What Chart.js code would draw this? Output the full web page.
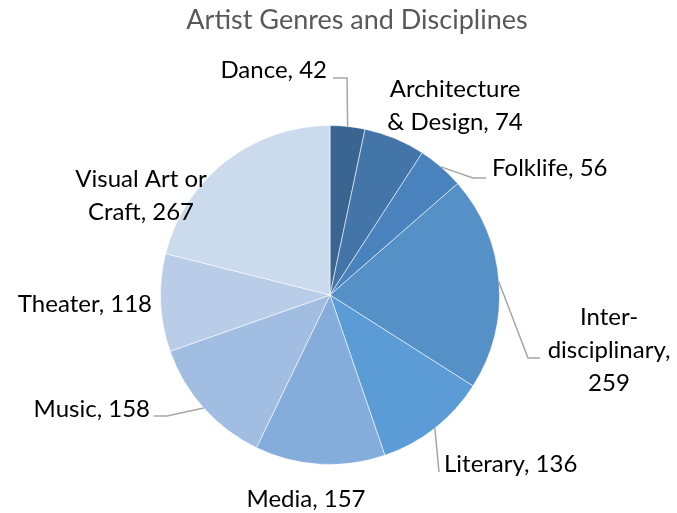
<!DOCTYPE html>
<html>
<head>
<meta charset="utf-8">
<script src="https://cdn.jsdelivr.net/npm/chart.js@4"></script>
<style>
  html, body { margin: 0; padding: 0; background: #ffffff; }
  #wrap { width: 677px; height: 513px; }
</style>
</head>
<body>
<div id="wrap"><canvas id="c" width="677" height="513"></canvas></div>
<script>
// ---- data ----
const categories = ["Dance", "Architecture & Design", "Folklife", "Interdisciplinary", "Literary", "Media", "Music", "Theater", "Visual Art or Craft"];
const labelLines = [["Dance, 42"], ["Architecture", "& Design, 74"], ["Folklife, 56"], ["Inter-", "disciplinary,", "259"], ["Literary, 136"], ["Media, 157"], ["Music, 158"], ["Theater, 118"], ["Visual Art or", "Craft, 267"]];
const values = [42, 74, 56, 259, 136, 157, 158, 118, 267];
const chartTitle = "Artist Genres and Disciplines";

// ---- styles ----
const colors = ["#3b6591", "#4475a9", "#4a82bd", "#5590c7", "#5b9bd6", "#84addb", "#a2bde2", "#bacde8", "#ccdaed"];
const FONT = "Lato, 'Open Sans', sans-serif";
const LABEL_SIZE = 24;
// label placement: anchor x, first baseline y, alignment; leader: elbow points (arc point added from the chart)
const labelStyle = [
  { x: 327, y: 78, align: "right", leader: [[333, 78], [347, 78]] },
  { x: 455, y: 97, align: "center", leader: null },
  { x: 492, y: 176, align: "left", leader: [[486, 178], [473, 178]] },
  { x: 609, y: 325, align: "center", leader: [[540, 358], [528, 358]] },
  { x: 444, y: 472, align: "left", leader: [[439, 472]] },
  { x: 306, y: 507, align: "center", leader: null },
  { x: 150, y: 417, align: "right", leader: [[154, 416], [167, 416]] },
  { x: 152, y: 312, align: "right", leader: null },
  { x: 141, y: 187, align: "center", leader: null }
];
const LINE_GAP = 33;

const labelPlugin = {
  id: "outLabels",
  afterDraw(chart) {
    const ctx = chart.ctx;
    const meta = chart.getDatasetMeta(0);
    ctx.save();
    // title
    ctx.font = "27px " + FONT;
    ctx.fillStyle = "#595959";
    ctx.textAlign = "center";
    ctx.textBaseline = "alphabetic";
    ctx.fillText(chartTitle, 357, 29);
    // leaders
    ctx.strokeStyle = "#a6a6a6";
    ctx.lineWidth = 1.5;
    meta.data.forEach((arc, i) => {
      const st = labelStyle[i];
      if (!st.leader) return;
      const mid = (arc.startAngle + arc.endAngle) / 2;
      const px = arc.x + Math.cos(mid) * arc.outerRadius;
      const py = arc.y + Math.sin(mid) * arc.outerRadius;
      ctx.beginPath();
      ctx.moveTo(st.leader[0][0], st.leader[0][1]);
      for (let k = 1; k < st.leader.length; k++) ctx.lineTo(st.leader[k][0], st.leader[k][1]);
      ctx.lineTo(px, py);
      ctx.stroke();
    });
    // texts
    ctx.font = LABEL_SIZE + "px " + FONT;
    ctx.fillStyle = "#000000";
    labelLines.forEach((lines, i) => {
      const st = labelStyle[i];
      ctx.textAlign = st.align;
      lines.forEach((t, j) => ctx.fillText(t, st.x, st.y + j * LINE_GAP));
    });
    ctx.restore();
  }
};

new Chart(document.getElementById("c"), {
  type: "pie",
  data: {
    labels: categories,
    datasets: [{
      data: values,
      backgroundColor: colors,
      borderColor: "rgba(255,255,255,0.55)",
      borderWidth: 1
    }]
  },
  options: {
    responsive: false,
    animation: false,
    layout: { padding: { left: 160, right: 177, top: 125, bottom: 48 } },
    plugins: {
      legend: { display: false },
      title: { display: false },
      tooltip: { enabled: false }
    }
  },
  plugins: [labelPlugin]
});
</script>
</body>
</html>
